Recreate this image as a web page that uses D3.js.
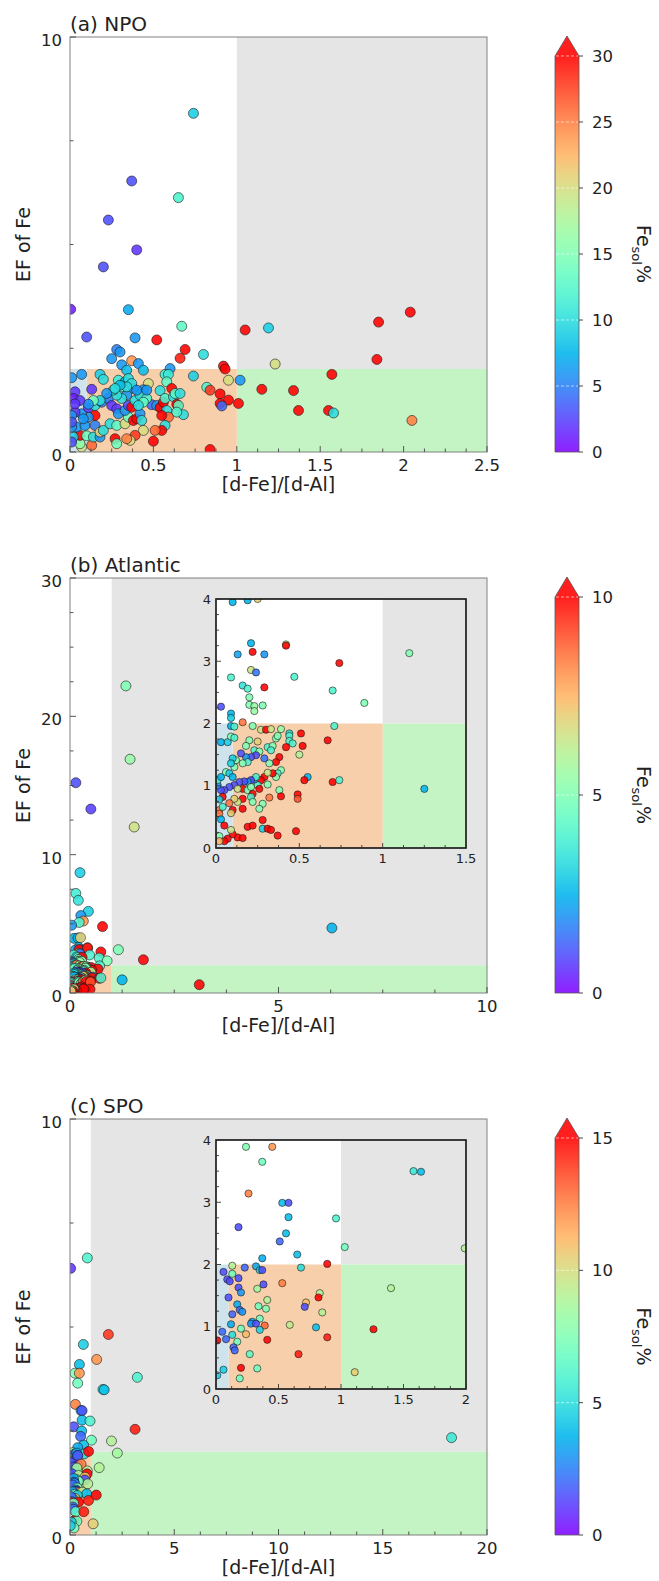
<!DOCTYPE html>
<html><head><meta charset="utf-8">
<script src="https://cdn.jsdelivr.net/npm/d3@7"></script>
<style>body{margin:0;background:#fff;} text{font-family:"DejaVu Sans",sans-serif;fill:#222;}</style>
</head><body><svg id="chart" width="659" height="1581"></svg>
<script>
// ---------- DATA ----------
const panelTitles = ["(a) NPO", "(b) Atlantic", "(c) SPO"];
const xMaxMain = [2.5, 10, 20];
const yMaxMain = [10, 30, 10];
const xTickLabels = [[0, 0.5, 1, 1.5, 2, 2.5], [0, 5, 10], [0, 5, 10, 15, 20]];
const xMinorStep = [0.125, 1.25, 1.25];
const yTickLabels = [[0, 10], [0, 10, 20, 30], [0, 10]];
const yMinorStep = [2.5, 2.5, 2.5];
const cbarMax = [30, 10, 15];
const cbarTicks = [[0, 5, 10, 15, 20, 25, 30], [0, 5, 10], [0, 5, 10, 15]];
const insetXMax = [null, 1.5, 2];
const insetYMax = [null, 4, 4];
const insetXTicks = [null, [0, 0.5, 1, 1.5], [0, 0.5, 1, 1.5, 2]];
const insetYTicks = [null, [0, 1, 2, 3, 4], [0, 1, 2, 3, 4]];
const efThreshold = 2, ratioLow = 0.1, ratioHigh = 1;

// [d-Fe]/[d-Al], EF of Fe, Fe_sol%
const npoPts = [
[0.74,8.16,9],[0.37,6.53,3],[0.65,6.13,12],[0.23,5.59,3],[0.40,4.87,2],[0.20,4.46,3],[0.004,3.44,1],[0.35,3.43,7],
[2.04,3.37,30],[1.85,3.13,30],[0.67,3.03,13],[1.05,2.94,30],[1.19,2.99,9],[0.10,2.77,3],[0.39,2.75,6],[0.52,2.70,30],
[0.28,2.47,5],[0.30,2.41,6],[0.69,2.47,30],[0.80,2.35,10],[0.25,2.25,6],[0.66,2.26,29],[1.84,2.23,30],[0.37,2.20,24],
[0.31,2.10,6],[0.41,2.13,6],[1.23,2.12,20],[0.92,2.07,30],[0.93,2.00,30],[0.01,1.79,6],[0.07,1.87,6],[0.18,1.87,9],
[0.20,1.75,10],[0.34,1.97,8],[0.44,1.97,8],[0.60,2.01,6],[0.57,1.87,11],[0.59,1.87,11],[0.74,1.83,9],[0.58,1.69,13],
[0.95,1.73,20],[1.02,1.73,6],[1.57,1.87,30],[0.47,1.65,20],[0.82,1.56,12],[0.84,1.49,28],[1.15,1.51,30],[1.34,1.48,30],
[0.03,1.45,2],[0.13,1.51,2],[0.02,1.29,1],[0.61,1.53,30],[0.54,1.48,10],[0.90,1.40,30],[0.95,1.25,30],[1.01,1.17,30],
[0.90,1.17,30],[0.91,1.11,4],[1.37,1.00,30],[1.55,1.00,30],[1.58,0.94,10],[2.05,0.76,25],[0.84,0.06,30],[0.50,0.26,30],
[0.29,1.73,11],[0.33,1.69,7],[0.35,1.77,10],[0.31,1.57,12],[0.38,1.53,6],[0.44,1.50,6],[0.49,1.14,4],[0.52,1.12,6],
[0.54,1.07,30],[0.56,1.20,30],[0.57,1.29,12],[0.62,1.33,10],[0.63,1.41,13],[0.66,1.41,10],[0.64,1.15,30],[0.65,1.12,13],
[0.68,0.90,10],[0.64,0.96,12],[0.58,1.00,10],[0.59,0.84,26],[0.55,0.88,30],[0.57,0.64,10],[0.55,0.52,30],[0.51,0.52,26],
[0.44,0.52,20],[0.39,0.40,28],[0.36,0.28,20],[0.34,0.32,25],[0.27,0.32,30],[0.28,0.20,14],[0.13,0.16,26],[0.07,0.12,20],
[0.06,0.20,16],[0.06,0.40,30],[0.10,0.39,14],[0.14,0.36,10],[0.18,0.36,6],[0.02,0.36,9],[0.01,0.24,3],[0.04,0.60,6],
[0.01,0.60,6],[0.09,0.64,6],[0.15,0.64,5],[0.18,0.48,21],[0.20,0.52,10],[0.24,0.68,10],[0.28,0.64,13],[0.33,0.68,20],
[0.35,0.84,14],[0.38,0.76,30],[0.40,0.80,30],[0.42,0.92,6],[0.43,0.76,10],[0.15,0.88,30],[0.11,0.84,6],[0.07,0.92,6],
[0.03,0.96,2],[0.08,0.80,6],[0.11,1.07,2],[0.15,1.12,10],[0.19,1.20,5],[0.23,1.29,5],[0.25,1.12,2],[0.28,1.04,2],
[0.29,0.92,6],[0.33,1.00,6],[0.35,1.12,3],[0.37,1.08,30],[0.39,1.24,10],[0.42,1.37,10],[0.46,1.29,12],[0.44,1.20,13],
[0.41,1.12,10],[0.34,1.37,6],[0.31,1.29,10],[0.28,1.37,10],[0.26,1.49,10],[0.22,1.41,6],[0.18,1.24,10],[0.14,1.24,14],
[0.11,1.15,6],[0.06,1.24,2],[0.03,1.16,2],[0.01,0.88,6],[0.01,0.72,3],[0.37,1.65,10],[0.40,1.49,6],[0.46,1.49,6],
[0.34,1.57,10],[0.30,1.61,8],[0.27,1.53,10]
];

const atlOuterPts = [
[1.34,22.2,5],[1.44,16.9,5.5],[1.54,12.0,6.5],[0.14,15.2,1],[0.50,13.3,0.8],[0.24,8.7,3],[0.14,7.2,3.8],[0.20,6.7,3.5],
[0.44,5.9,3],[0.26,5.6,2],[0.32,5.2,8],[0.22,5.1,4],[0.04,4.9,2],[0.78,4.8,10],[6.28,4.7,2.5],[1.76,2.4,10],[3.10,0.6,10]
];
const atlInnerPts = [
[0.10,3.95,2.5],[0.19,3.98,2.5],[0.25,4.0,7],[0.21,3.29,2.5],[0.13,3.11,2.2],[0.29,3.11,2],[0.22,3.15,10],[0.42,3.27,6],
[0.42,3.25,10],[0.74,2.97,10],[1.16,3.13,5],[0.21,2.86,6.5],[0.24,2.82,1.5],[0.09,2.74,4],[0.47,2.75,4],[0.16,2.61,3.5],
[0.19,2.56,4],[0.29,2.58,10],[0.70,2.53,4],[0.89,2.33,5],[0.20,2.42,5],[0.20,2.30,5],[0.23,2.28,5.5],[0.28,2.29,5],
[0.23,2.20,5.5],[0.03,2.27,1],[0.09,2.16,2.5],[0.09,2.09,3],[0.09,1.96,2.5],[0.11,1.95,4],[0.16,2.02,8.5],[0.22,1.96,5],
[0.27,1.90,6.5],[0.30,1.90,10],[0.33,1.91,6.5],[0.39,1.91,5.5],[0.71,1.96,4],[0.03,1.70,2.5],[0.07,1.70,3],[0.09,1.79,5],
[0.11,1.77,4],[0.44,1.84,3.5],[0.44,1.80,4],[0.51,1.84,10],[0.44,1.72,4],[0.46,1.68,4],[0.67,1.73,10],[0.52,1.64,10],
[0.42,1.62,10],[0.36,1.76,5],[0.37,1.80,5],[0.25,1.71,7],[0.20,1.73,5],[0.18,1.64,5],[0.23,1.57,4],[0.26,1.55,5],
[0.31,1.62,4],[0.34,1.64,5],[0.33,1.57,4],[0.50,1.50,6],[0.38,1.46,10],[0.36,1.38,10],[0.32,1.36,5],[0.29,1.44,1.5],
[0.24,1.49,1],[0.21,1.46,1],[0.18,1.46,2],[0.15,1.52,1],[0.19,1.38,4],[0.16,1.36,5],[0.12,1.41,5],[0.10,1.44,3],
[0.11,1.30,5],[0.09,1.36,3],[0.39,1.25,5],[0.37,1.20,4],[0.36,1.14,5],[0.34,1.20,10],[0.29,1.14,10],[0.31,1.21,6.5],
[0.55,1.14,2.5],[0.53,1.09,10],[0.70,1.06,10],[0.74,1.09,4],[0.31,1.02,5],[0.27,1.09,10],[0.25,1.01,4],[0.23,1.10,2],
[0.24,1.14,4],[0.21,1.09,1],[0.19,1.06,2],[0.17,1.07,1],[0.14,1.06,1],[0.11,1.01,1],[0.08,0.98,1],[0.05,0.93,1],
[0.03,0.93,1],[0.01,1.01,2],[0.01,1.09,4],[0.03,1.14,2.5],[0.06,1.22,5],[0.08,1.20,3],[0.10,1.14,2.5],[0.16,0.95,10],
[0.13,0.95,6.5],[0.19,0.93,5],[0.21,0.98,5],[0.26,0.95,10],[0.22,0.87,10],[0.16,0.79,10],[0.16,0.63,10],[0.13,0.74,6.5],
[0.11,0.79,7],[0.08,0.72,8.5],[0.10,0.61,10],[0.09,0.56,7],[0.04,0.82,10],[0.02,0.78,3],[0.02,0.61,8.5],[0.04,0.66,4],
[0.02,0.55,8.5],[0.03,0.46,2.5],[0.05,0.36,10],[0.21,0.82,4],[0.22,0.74,5],[0.28,0.71,5],[0.26,0.63,5],[0.32,0.81,8.5],
[0.38,0.93,5],[0.39,0.83,10],[0.49,0.86,10],[0.49,0.79,9],[0.37,0.20,10],[0.48,0.27,10],[0.19,0.34,10],[0.22,0.36,10],
[0.28,0.45,10],[0.28,0.31,3],[0.31,0.31,10],[0.33,0.29,10],[0.13,0.17,10],[0.16,0.16,10],[0.10,0.22,10],[0.09,0.29,6.5],
[0.07,0.15,10],[0.05,0.11,10],[0.02,0.19,5],[0.02,0.11,7.5],[1.25,0.95,2.5]
];

const spoOuterPts = [
[0.83,6.66,6],[0.03,6.41,1],[1.84,4.82,14],[0.64,4.58,4.5],[1.28,4.22,12],[0.45,4.10,4],[3.23,3.79,6],[3.12,2.54,14.5],
[18.3,2.34,5.5],[2.27,1.97,8.5]
];
const spoInnerPts = [
[0.24,3.89,7.5],[0.45,3.89,12],[0.37,3.65,7],[0.26,3.14,12.5],[0.53,2.99,4],[0.58,2.99,1.5],[0.58,2.76,4],[0.96,2.74,6],
[0.18,2.60,1.5],[0.56,2.50,4],[0.51,2.37,2],[1.03,2.28,7],[1.99,2.26,9],[1.58,3.50,5.5],[1.64,3.49,4],[0.65,2.16,4],
[0.37,2.10,3.5],[0.68,1.95,5],[0.89,2.01,15],[0.13,1.98,9],[0.06,1.88,1.5],[0.13,1.85,7],[0.09,1.76,1.5],[0.11,1.73,1.5],
[0.18,1.78,1.5],[0.23,1.95,2],[0.32,1.97,3.5],[0.35,1.91,4.5],[0.37,1.91,1.5],[0.38,1.68,1.5],[0.53,1.70,12.5],[0.18,1.63,1.5],
[0.20,1.55,3],[0.33,1.61,8.5],[0.10,1.47,1.5],[0.41,1.43,9],[0.83,1.54,9],[0.82,1.47,15],[0.72,1.39,11],[0.71,1.32,1.5],
[0.85,1.23,9],[0.34,1.33,7],[0.40,1.29,7.5],[0.17,1.36,3.5],[0.19,1.27,2],[0.21,1.24,3],[0.13,1.20,2],[0.35,1.13,7],
[0.29,1.08,3.5],[0.28,1.05,3],[0.32,1.05,1.5],[0.39,1.02,13],[0.59,1.03,9.5],[0.80,0.99,4],[0.12,1.04,3.5],[0.20,0.97,7],
[0.35,0.95,4.5],[0.24,0.88,11],[0.13,0.87,5],[0.05,0.92,2],[0.08,0.80,2],[0.01,0.78,15],[0.41,0.79,15],[0.89,0.83,14.5],
[0.17,0.76,7],[0.14,0.67,2],[0.15,0.62,2],[0.27,0.56,6.5],[0.66,0.56,14.5],[0.20,0.34,15],[0.33,0.33,7],[0.06,0.31,4.5],
[0.19,0.17,7],[0.01,0.22,4.5],[1.11,0.27,10.5],[1.40,1.62,9],[1.26,0.96,15]
];

const panelPts = [npoPts, atlOuterPts.concat(atlInnerPts), spoOuterPts.concat(spoInnerPts)];

// ---------- LAYOUT ----------
const svg = d3.select("#chart");
const L = 70, R = 487;
const frames = [{top: 37, bottom: 452}, {top: 578, bottom: 993}, {top: 1119, bottom: 1535}];
const insetBoxes = [null, {left: 216, right: 466, top: 599, bottom: 848}, {left: 216, right: 466, top: 1140, bottom: 1389}];

function rainbow(t) {
  t = Math.max(0, Math.min(1, t));
  const r = Math.min(1, Math.abs(2 * t - 0.5)), g = Math.sin(Math.PI * t), b = Math.cos(Math.PI * t / 2);
  return d3.rgb(r * 255, g * 255, b * 255).formatHex();
}

function drawRegions(g, x, y) {
  const [, xmax] = x.domain(), [, ymax] = y.domain();
  const rects = [
    {a: 0, b: xmax, c: 0, d: ymax, col: "#ffffff"},
    {a: ratioHigh, b: xmax, c: efThreshold, d: ymax, col: "#e5e5e5"},
    {a: ratioHigh, b: xmax, c: 0, d: efThreshold, col: "#c4f4c4"},
    {a: ratioLow, b: ratioHigh, c: 0, d: efThreshold, col: "#f8cfab"},
    {a: 0, b: ratioLow, c: 0, d: efThreshold, col: "#cfe3ec"}
  ];
  g.selectAll(null).data(rects).join("rect")
    .attr("x", d => x(d.a)).attr("y", d => y(d.d))
    .attr("width", d => x(d.b) - x(d.a)).attr("height", d => y(d.c) - y(d.d))
    .attr("fill", d => d.col);
}

function minorVals(max, step, majors) {
  return d3.range(0, max + 1e-9, step).filter(v => !majors.some(m => Math.abs(m - v) < 1e-9));
}

function drawTicks(g, x, y, xLab, xStep, yLab, yStep, o) {
  const [, xmax] = x.domain(), [, ymax] = y.domain();
  const bottom = y(0), left = x(0);
  const tg = g.append("g").attr("stroke", o.tickColor).attr("stroke-width", 0.9);
  xLab.forEach(v => tg.append("line").attr("x1", x(v)).attr("x2", x(v)).attr("y1", bottom).attr("y2", bottom - o.major));
  minorVals(xmax, xStep, xLab).forEach(v => tg.append("line").attr("x1", x(v)).attr("x2", x(v)).attr("y1", bottom).attr("y2", bottom - o.minor));
  yLab.forEach(v => tg.append("line").attr("x1", left).attr("x2", left + o.major).attr("y1", y(v)).attr("y2", y(v)));
  minorVals(ymax, yStep, yLab).forEach(v => tg.append("line").attr("x1", left).attr("x2", left + o.minor).attr("y1", y(v)).attr("y2", y(v)));
  g.selectAll(null).data(xLab).join("text").attr("x", d => x(d)).attr("y", bottom + o.xOff)
    .attr("text-anchor", "middle").attr("font-size", o.fs).text(d => String(d));
  g.selectAll(null).data(yLab).join("text").attr("x", left - o.yOff).attr("y", d => y(d) + o.fs * 0.36 + o.yShift)
    .attr("text-anchor", "end").attr("font-size", o.fs).text(d => String(d));
}

function drawPoints(g, pts, x, y, r, cmax, clipId) {
  g.append("g").attr("clip-path", `url(#${clipId})`)
    .selectAll("circle").data(pts).join("circle")
    .attr("cx", d => x(d[0])).attr("cy", d => y(d[1])).attr("r", r)
    .attr("fill", d => rainbow(d[2] / cmax)).attr("fill-opacity", 0.88)
    .attr("stroke", "#1a1a1a").attr("stroke-opacity", 0.75).attr("stroke-width", 0.8);
}

const defs = svg.append("defs");

panelTitles.forEach((title, i) => {
  const f = frames[i];
  const x = d3.scaleLinear().domain([0, xMaxMain[i]]).range([L, R]);
  const y = d3.scaleLinear().domain([0, yMaxMain[i]]).range([f.bottom, f.top]);
  const g = svg.append("g");
  drawRegions(g, x, y);
  defs.append("clipPath").attr("id", "clipM" + i).append("rect")
    .attr("x", L).attr("y", f.top).attr("width", R - L).attr("height", f.bottom - f.top);
  drawPoints(g, panelPts[i], x, y, 5, cbarMax[i], "clipM" + i);
  g.append("rect").attr("x", L).attr("y", f.top).attr("width", R - L).attr("height", f.bottom - f.top)
    .attr("fill", "none").attr("stroke", "#808080").attr("stroke-width", 1);
  drawTicks(g, x, y, xTickLabels[i], xMinorStep[i], yTickLabels[i], yMinorStep[i],
    {tickColor: "#444", major: 6, minor: 3.5, fs: 16.5, xOff: 18.5, yOff: 8, yShift: 3});
  g.append("text").attr("x", L).attr("y", f.top - 6).attr("font-size", 20).text(title);
  g.append("text").attr("transform", `translate(30,${(f.top + f.bottom) / 2}) rotate(-90)`)
    .attr("text-anchor", "middle").attr("font-size", 19).text("EF of Fe");
  g.append("text").attr("x", (L + R) / 2).attr("y", f.bottom + 39)
    .attr("text-anchor", "middle").attr("font-size", 19).text("[d-Fe]/[d-Al]");

  // inset
  const ib = insetBoxes[i];
  if (ib) {
    const xi = d3.scaleLinear().domain([0, insetXMax[i]]).range([ib.left, ib.right]);
    const yi = d3.scaleLinear().domain([0, insetYMax[i]]).range([ib.bottom, ib.top]);
    const gi = svg.append("g");
    drawRegions(gi, xi, yi);
    defs.append("clipPath").attr("id", "clipI" + i).append("rect")
      .attr("x", ib.left).attr("y", ib.top).attr("width", ib.right - ib.left).attr("height", ib.bottom - ib.top);
    drawPoints(gi, panelPts[i], xi, yi, 3.6, cbarMax[i], "clipI" + i);
    gi.append("rect").attr("x", ib.left).attr("y", ib.top).attr("width", ib.right - ib.left).attr("height", ib.bottom - ib.top)
      .attr("fill", "none").attr("stroke", "#111").attr("stroke-width", 1.6);
    drawTicks(gi, xi, yi, insetXTicks[i], 0.125, insetYTicks[i], 0.25,
      {tickColor: "#333", major: 5, minor: 3, fs: 13, xOff: 15, yOff: 5, yShift: 0});
  }

  // colorbar
  const cx = 555, cw = 24, ctop = f.top + 19, cbot = f.bottom, tip = f.top - 1;
  const gid = "grad" + i;
  const grad = defs.append("linearGradient").attr("id", gid).attr("x1", 0).attr("y1", 1).attr("x2", 0).attr("y2", 0);
  d3.range(0, 1.0001, 0.05).forEach(t => grad.append("stop").attr("offset", t).attr("stop-color", rainbow(t)));
  const cg = svg.append("g");
  cg.append("rect").attr("x", cx).attr("y", ctop).attr("width", cw).attr("height", cbot - ctop)
    .attr("fill", `url(#${gid})`).attr("fill-opacity", 0.88);
  cg.append("path").attr("d", `M${cx},${ctop}L${cx + cw / 2},${tip}L${cx + cw},${ctop}Z`)
    .attr("fill", rainbow(1)).attr("fill-opacity", 0.88);
  const cs = d3.scaleLinear().domain([0, cbarMax[i]]).range([cbot, ctop]);
  cbarTicks[i].filter(v => v > 0).forEach(v => cg.append("line").attr("x1", cx + 1).attr("x2", cx + cw - 1)
    .attr("y1", cs(v)).attr("y2", cs(v)).attr("stroke", "#fff").attr("stroke-opacity", 0.75)
    .attr("stroke-width", 0.8).attr("stroke-dasharray", "3,2"));
  cg.append("path").attr("d", `M${cx},${cbot}L${cx},${ctop}L${cx + cw / 2},${tip}L${cx + cw},${ctop}L${cx + cw},${cbot}Z`)
    .attr("fill", "none").attr("stroke", "#555").attr("stroke-width", 0.8);
  cbarTicks[i].forEach(v => {
    cg.append("line").attr("x1", cx + cw).attr("x2", cx + cw + 4).attr("y1", cs(v)).attr("y2", cs(v))
      .attr("stroke", "#333").attr("stroke-width", 0.9);
    cg.append("text").attr("x", cx + cw + 13).attr("y", cs(v) + 6).attr("font-size", 16.5).text(String(v));
  });
  const lab = cg.append("text").attr("transform", `translate(637,${(ctop + cbot) / 2}) rotate(90)`)
    .attr("text-anchor", "middle").attr("font-size", 19);
  lab.append("tspan").text("Fe");
  lab.append("tspan").attr("font-size", 13).attr("dy", 5).text("sol");
  lab.append("tspan").attr("dy", -5).text("%");
});
</script>
</body></html>
